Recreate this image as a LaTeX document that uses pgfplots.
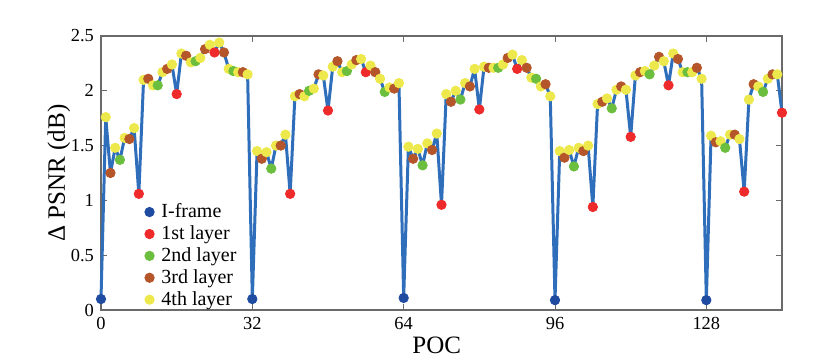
\documentclass[border=0pt]{standalone}
\usepackage{fontspec}
\setmainfont{Liberation Serif}
\usepackage{pgfplots}
\usepackage{pgfplotstable}
\pgfplotsset{compat=1.18}
\definecolor{LineBlue}{HTML}{2F6EBA}
\definecolor{IBlue}{HTML}{1F4BA0}
\definecolor{LRed}{HTML}{EE2A2A}
\definecolor{LGreen}{HTML}{6CBF3E}
\definecolor{LBrown}{HTML}{B5562A}
\definecolor{LYellow}{HTML}{EDE94C}
\definecolor{AxGray}{HTML}{6A6A6A}

% POC, delta PSNR, frame type
\pgfplotstableread{
x y c
0 0.10 i
1 1.76 d
2 1.25 c
3 1.48 d
4 1.37 b
5 1.57 d
6 1.56 c
7 1.66 d
8 1.06 a
9 2.10 d
10 2.11 c
11 2.05 d
12 2.05 b
13 2.17 d
14 2.20 c
15 2.24 d
16 1.97 a
17 2.34 d
18 2.32 c
19 2.26 d
20 2.27 b
21 2.30 d
22 2.38 c
23 2.42 d
24 2.35 a
25 2.44 d
26 2.35 c
27 2.20 d
28 2.18 b
29 2.17 d
30 2.17 c
31 2.15 d
32 0.10 i
33 1.45 d
34 1.38 c
35 1.44 d
36 1.29 b
37 1.50 d
38 1.50 c
39 1.60 d
40 1.06 a
41 1.95 d
42 1.97 c
43 1.95 d
44 2.00 b
45 2.02 d
46 2.15 c
47 2.14 d
48 1.82 a
49 2.22 d
50 2.27 c
51 2.17 d
52 2.18 b
53 2.24 d
54 2.28 c
55 2.29 d
56 2.17 a
57 2.23 d
58 2.17 c
59 2.11 d
60 1.99 b
61 2.03 d
62 2.02 c
63 2.07 d
64 0.11 i
65 1.49 d
66 1.38 c
67 1.47 d
68 1.32 b
69 1.52 d
70 1.46 c
71 1.61 d
72 0.96 a
73 1.97 d
74 1.90 c
75 2.00 d
76 1.92 b
77 2.07 d
78 2.04 c
79 2.20 d
80 1.83 a
81 2.22 d
82 2.21 c
83 2.21 d
84 2.21 b
85 2.24 d
86 2.30 c
87 2.33 d
88 2.20 a
89 2.28 d
90 2.21 c
91 2.12 d
92 2.11 b
93 2.04 d
94 2.06 c
95 1.95 d
96 0.09 i
97 1.45 d
98 1.39 c
99 1.46 d
100 1.31 b
101 1.48 d
102 1.45 c
103 1.50 d
104 0.94 a
105 1.88 d
106 1.90 c
107 1.93 d
108 1.84 b
109 2.01 d
110 2.04 c
111 2.01 d
112 1.58 a
113 2.14 d
114 2.17 c
115 2.18 d
116 2.15 b
117 2.23 d
118 2.31 c
119 2.27 d
120 2.05 a
121 2.34 d
122 2.29 c
123 2.17 d
124 2.17 b
125 2.17 d
126 2.21 c
127 2.11 d
128 0.09 i
129 1.59 d
130 1.53 c
131 1.54 d
132 1.48 b
133 1.60 d
134 1.60 c
135 1.56 d
136 1.08 a
137 1.92 d
138 2.06 c
139 2.04 d
140 1.99 b
141 2.11 d
142 2.15 c
143 2.15 d
144 1.80 a
}\psnr

\begin{document}
\begin{tikzpicture}
\useasboundingbox (0,0) rectangle (415pt,180pt);
\begin{axis}[
    at={(50.5pt,25pt)},
    anchor=south west,
    scale only axis,
    width=340.5pt,
    height=137pt,
    xmin=0, xmax=144,
    ymin=0, ymax=2.5,
    xtick={0,32,64,96,128},
    ytick={0,0.5,1,1.5,2,2.5},
    yticklabels={0,0.5,1,1.5,2,2.5},
    tick align=inside,
    major tick length=3pt,
    axis line style={AxGray,line width=0.6pt},
    every tick/.style={AxGray,line width=0.5pt},
    tick label style={font=\fontsize{9.2}{10}\selectfont},
    /pgf/number format/assume math mode=true,
    xlabel={POC},
    ylabel={Δ PSNR (dB)},
    label style={font=\fontsize{12.5}{14}\selectfont},
    xlabel style={at={(axis description cs:0.493,-0.128)},anchor=center},
    ylabel style={at={(axis description cs:-0.062,0.5)},anchor=center},
    legend style={draw=none,fill=none,at={(0.055,0.415)},anchor=north west,
        font=\fontsize{10}{10.4}\selectfont,row sep=-0.3pt,
        nodes={inner sep=1.4pt},
        /tikz/every odd column/.append style={column sep=2.2pt}},
    legend cell align=left,
    clip=false,
]
\addplot[LineBlue,line width=1.5pt,line join=round,forget plot] table[x=x,y=y] {\psnr};
\addplot[
    scatter,only marks,
    scatter src=explicit symbolic,
    scatter/classes={
        i={mark=*,mark size=2.35pt,IBlue},
        a={mark=*,mark size=2.35pt,LRed},
        b={mark=*,mark size=2.35pt,LGreen},
        c={mark=*,mark size=2.35pt,LBrown},
        d={mark=*,mark size=2.35pt,LYellow}},
] table[x=x,y=y,meta=c] {\psnr};
\legend{I-frame,1st layer,2nd layer,3rd layer,4th layer}
\end{axis}
\end{tikzpicture}
\end{document}
